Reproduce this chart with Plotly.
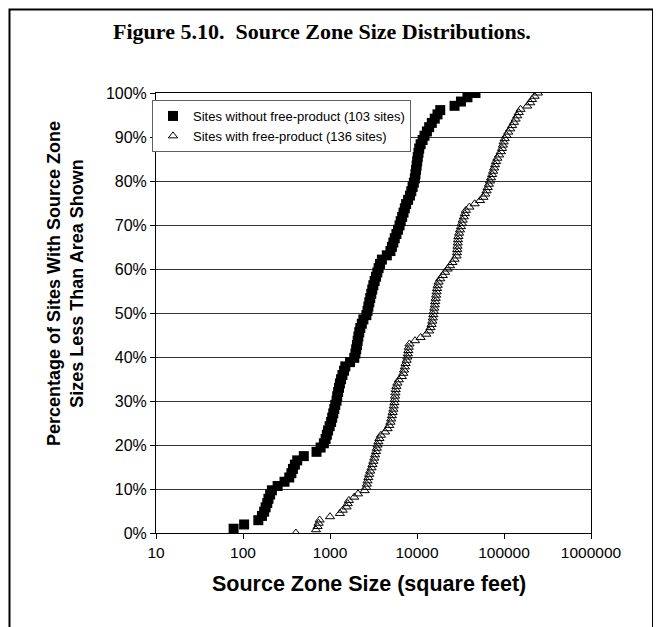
import plotly.graph_objects as go

# Source zone sizes (square feet), sorted
without_free_product = [
    78, 103, 150, 165, 175, 182, 190, 196, 205, 215,
    250, 300, 340, 360, 375, 395, 420, 500, 700, 780,
    850, 890, 920, 950, 990, 1030, 1060, 1090, 1120, 1150,
    1190, 1210, 1240, 1270, 1300, 1340, 1390, 1450, 1500, 1700,
    1900, 1960, 2000, 2040, 2080, 2120, 2170, 2230, 2320, 2420,
    2620, 2700, 2760, 2830, 2900, 2980, 3060, 3150, 3260, 3380,
    3500, 3620, 3760, 3950, 4500, 4950, 5150, 5350, 5550, 5800,
    6050, 6300, 6500, 6750, 7000, 7250, 7500, 7900, 8300, 8600,
    8900, 9200, 9450, 9600, 9750, 9900, 10050, 10200, 10400, 10600,
    11000, 11600, 12200, 13000, 13800, 14800, 16000, 17200, 18500, 27000,
    32000, 38000, 47000,
]

with_free_product = [
    405, 690, 720, 740, 760, 1000, 1300, 1400, 1550, 1600,
    1650, 1900, 2100, 2500, 2600, 2650, 2700, 2760, 2820, 2900,
    3000, 3080, 3150, 3230, 3300, 3380, 3450, 3520, 3600, 3700,
    3850, 4300, 4600, 4800, 4950, 5050, 5150, 5250, 5350, 5400,
    5500, 5550, 5600, 5650, 5700, 5800, 5950, 6200, 6700, 6950,
    7100, 7250, 7400, 7600, 7750, 7850, 7950, 8050, 8200, 9500,
    11000, 12800, 13800, 14300, 14700, 15000, 15200, 15400, 15600, 15800,
    16000, 16200, 16400, 16600, 16800, 17000, 17300, 17700, 18500, 19800,
    21000, 22500, 24000, 25500, 27000, 28500, 28800, 29000, 29200, 29400,
    29600, 29900, 30500, 31200, 32000, 32800, 33500, 34500, 35500, 36500,
    40000, 46000, 53000, 58000, 61000, 63000, 65000, 67000, 69000, 71000,
    73000, 75000, 77000, 79000, 81000, 84000, 88000, 92000, 95000, 97000,
    99000, 102000, 107000, 112000, 118000, 124000, 130000, 136000, 142000, 148000,
    155000, 185000, 200000, 210000, 225000, 245000,
]

x_tick_values = [10, 100, 1000, 10000, 100000, 1000000]
x_tick_labels = ["10", "100", "1000", "10000", "100000", "1000000"]
y_tick_values = [0, 0.1, 0.2, 0.3, 0.4, 0.5, 0.6, 0.7, 0.8, 0.9, 1.0]
y_tick_labels = ["0%", "10%", "20%", "30%", "40%", "50%", "60%", "70%", "80%", "90%", "100%"]

# Cumulative rank positions
n1 = len(without_free_product)
y_without = [(i + 1) / n1 for i in range(n1)]
n2 = len(with_free_product)
y_with = [i / (n2 - 1) for i in range(n2)]

# page offset of the figure (browser body margin)
OFF = 8
W, H = 661 - OFF, 627 - OFF
L, R, T, B = 156 - OFF, 591 - OFF, 93 - OFF, 533 - OFF


def px(x_page):
    return (x_page - OFF - L) / (R - L)


def py(y_page):
    return (B - (y_page - OFF)) / (B - T)


SANS = "Arial, 'Liberation Sans', sans-serif"
SERIF = "'Times New Roman', 'Liberation Serif', serif"

fig = go.Figure()
fig.add_trace(go.Scatter(
    x=without_free_product, y=y_without, mode="markers",
    name="Sites without free-product (103 sites)",
    marker=dict(symbol="square", size=10, color="black", line=dict(width=0)),
))
fig.add_trace(go.Scatter(
    x=with_free_product, y=y_with, mode="markers",
    name="Sites with free-product (136 sites)",
    marker=dict(symbol="triangle-up-open", size=8, color="black", line=dict(width=1, color="black")),
))

fig.update_layout(
    width=W, height=H,
    margin=dict(l=L, r=W - R, t=T, b=H - B, pad=0),
    paper_bgcolor="white", plot_bgcolor="white",
    showlegend=True,
    legend=dict(
        x=px(152), y=py(100), xanchor="left", yanchor="top",
        bgcolor="white", bordercolor="#606060", borderwidth=1,
        font=dict(family=SANS, size=13, color="black"),
        itemwidth=30, tracegroupgap=0,
    ),
    font=dict(family=SANS, color="black"),
)

fig.update_xaxes(
    type="log", range=[1, 6],
    tickvals=x_tick_values, ticktext=x_tick_labels,
    ticks="outside", ticklen=5, tickcolor="black", tickwidth=1,
    showline=True, linecolor="black", linewidth=1, mirror=True,
    showgrid=False, zeroline=False,
    tickfont=dict(family=SANS, size=15.5, color="black"),
)
fig.update_yaxes(
    range=[0, 1],
    tickvals=y_tick_values, ticktext=y_tick_labels,
    ticks="outside", ticklen=5, tickcolor="black", tickwidth=1,
    showline=True, linecolor="black", linewidth=1, mirror=True,
    showgrid=True, gridcolor="#333333", gridwidth=1, zeroline=False,
    tickfont=dict(family=SANS, size=16, color="black"),
)

fig.add_annotation(
    text="<b>Figure 5.10.\u00a0 Source Zone Size Distributions.</b>",
    xref="paper", yref="paper", x=px(322), y=py(31),
    xanchor="center", yanchor="middle", showarrow=False,
    font=dict(family=SERIF, size=22, color="black"),
)
fig.add_annotation(
    text="<b>Percentage of Sites With Source Zone<br>Sizes Less Than Area Shown</b>",
    xref="paper", yref="paper", x=px(65), y=py(284),
    xanchor="center", yanchor="middle", showarrow=False, textangle=-90,
    font=dict(family=SANS, size=18, color="black"),
)
fig.add_annotation(
    text="<b>Source Zone Size (square feet)</b>",
    xref="paper", yref="paper", x=px(369), y=py(584),
    xanchor="center", yanchor="middle", showarrow=False,
    font=dict(family=SANS, size=21.5, color="black"),
)

fig.add_shape(
    type="rect", xref="paper", yref="paper",
    x0=px(9.5), x1=px(653), y0=py(660), y1=py(9.5),
    line=dict(color="black", width=2), fillcolor="rgba(0,0,0,0)", layer="below",
)

fig.write_html("out.html")
